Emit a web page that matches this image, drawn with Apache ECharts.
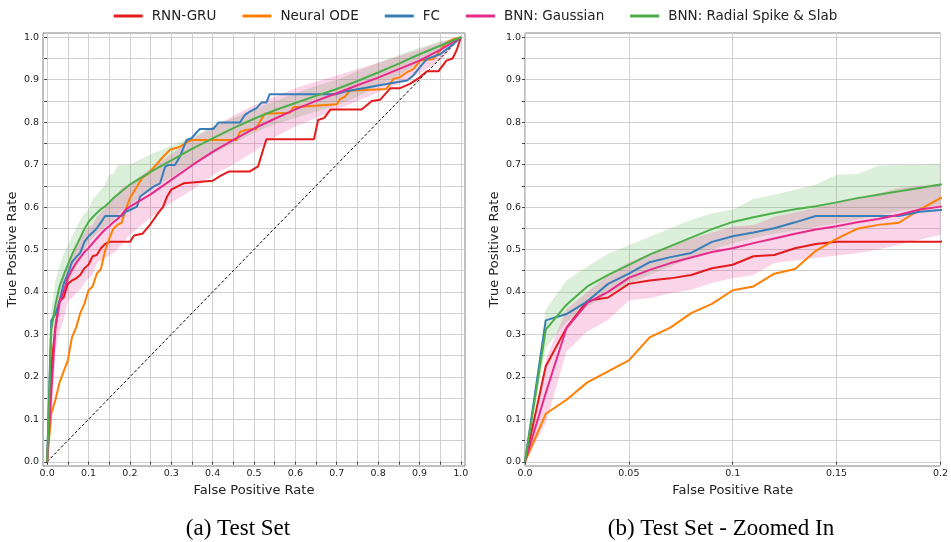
<!DOCTYPE html>
<html>
<head>
<meta charset="utf-8">
<script src="https://cdn.jsdelivr.net/npm/echarts@6/dist/echarts.min.js"></script>
<style>
  html, body { margin: 0; padding: 0; background: #fff; }
  #main { width: 951px; height: 542px; }
</style>
</head>
<body>
<div id="main"></div>
<script>
// ROC curves, [fpr, tpr]
const rnnGru = [[0,0],[0.01,0.225],[0.02,0.316],[0.03,0.379],[0.04,0.387],[0.05,0.419],[0.06,0.427],[0.07,0.432],[0.08,0.44],[0.09,0.456],[0.10,0.464],[0.11,0.484],[0.12,0.487],[0.13,0.503],[0.14,0.513],[0.15,0.518],[0.20,0.518],[0.21,0.533],[0.23,0.537],[0.25,0.56],[0.27,0.588],[0.28,0.60],[0.29,0.625],[0.30,0.641],[0.33,0.656],[0.40,0.662],[0.42,0.674],[0.44,0.684],[0.49,0.684],[0.51,0.696],[0.522,0.735],[0.53,0.76],[0.645,0.76],[0.655,0.805],[0.67,0.81],[0.685,0.83],[0.76,0.83],[0.785,0.85],[0.805,0.853],[0.83,0.88],[0.853,0.88],[0.877,0.89],[0.90,0.905],[0.918,0.92],[0.946,0.92],[0.965,0.945],[0.98,0.95],[0.99,0.97],[1,1]];
const neuralOde = [[0,0],[0.01,0.113],[0.02,0.146],[0.03,0.187],[0.04,0.213],[0.05,0.239],[0.06,0.293],[0.07,0.316],[0.08,0.35],[0.09,0.372],[0.10,0.404],[0.11,0.413],[0.12,0.443],[0.13,0.454],[0.14,0.497],[0.15,0.525],[0.16,0.549],[0.17,0.558],[0.18,0.563],[0.19,0.594],[0.20,0.621],[0.215,0.645],[0.229,0.668],[0.241,0.676],[0.253,0.688],[0.281,0.719],[0.297,0.735],[0.321,0.742],[0.333,0.75],[0.349,0.758],[0.458,0.758],[0.466,0.777],[0.482,0.782],[0.505,0.784],[0.51,0.794],[0.526,0.82],[0.587,0.822],[0.595,0.835],[0.70,0.842],[0.708,0.854],[0.72,0.86],[0.732,0.874],[0.82,0.878],[0.837,0.902],[0.853,0.906],[0.869,0.917],[0.885,0.925],[0.902,0.945],[0.934,0.949],[0.95,0.969],[0.966,0.988],[0.98,0.995],[1,1]];
const fc = [[0,0],[0.01,0.333],[0.02,0.348],[0.03,0.378],[0.04,0.419],[0.05,0.443],[0.06,0.47],[0.07,0.482],[0.08,0.492],[0.09,0.518],[0.10,0.531],[0.11,0.54],[0.12,0.55],[0.13,0.564],[0.14,0.579],[0.18,0.579],[0.19,0.589],[0.20,0.593],[0.217,0.601],[0.225,0.625],[0.257,0.648],[0.273,0.656],[0.285,0.695],[0.293,0.699],[0.309,0.699],[0.321,0.719],[0.337,0.758],[0.349,0.762],[0.369,0.784],[0.402,0.784],[0.414,0.799],[0.466,0.799],[0.478,0.817],[0.49,0.825],[0.506,0.833],[0.518,0.846],[0.53,0.846],[0.538,0.866],[0.70,0.866],[0.72,0.872],[0.82,0.89],[0.87,0.898],[0.885,0.91],[0.897,0.925],[0.918,0.949],[0.95,0.96],[0.966,0.972],[0.982,0.984],[1,1]];

// BNN curves: mean and band on a shared fpr grid
const bnnFpr = [0,0.01,0.02,0.03,0.04,0.05,0.06,0.07,0.08,0.09,0.10,0.11,0.12,0.13,0.14,0.15,0.16,0.17,0.18,0.19,0.20,0.25,0.30,0.35,0.40,0.45,0.50,0.55,0.60,0.65,0.70,0.75,0.80,0.85,0.90,0.95,1.0];
const gaussMean = [0,0.162,0.315,0.374,0.400,0.433,0.452,0.468,0.481,0.494,0.503,0.515,0.526,0.537,0.547,0.555,0.564,0.572,0.582,0.594,0.601,0.630,0.664,0.698,0.730,0.758,0.785,0.808,0.830,0.850,0.868,0.887,0.905,0.925,0.945,0.970,1.0];
const gaussLow  = [0,0.09,0.26,0.307,0.334,0.38,0.385,0.397,0.405,0.421,0.432,0.44,0.468,0.474,0.48,0.486,0.491,0.50,0.511,0.523,0.535,0.575,0.61,0.64,0.675,0.70,0.73,0.765,0.79,0.81,0.83,0.85,0.87,0.89,0.915,0.945,1.0];
const gaussHigh = [0,0.24,0.36,0.40,0.44,0.47,0.49,0.51,0.525,0.54,0.554,0.558,0.577,0.588,0.598,0.609,0.621,0.632,0.645,0.65,0.655,0.69,0.725,0.76,0.79,0.815,0.84,0.86,0.88,0.895,0.91,0.925,0.94,0.955,0.972,0.988,1.0];
const slabMean  = [0,0.311,0.370,0.413,0.440,0.464,0.488,0.508,0.528,0.548,0.565,0.576,0.586,0.595,0.602,0.611,0.621,0.629,0.637,0.645,0.653,0.683,0.71,0.737,0.762,0.786,0.808,0.828,0.845,0.862,0.878,0.897,0.917,0.938,0.96,0.98,1.0];
const slabLow   = [0,0.268,0.33,0.365,0.395,0.42,0.44,0.46,0.48,0.50,0.515,0.527,0.537,0.545,0.553,0.562,0.57,0.58,0.59,0.598,0.605,0.64,0.67,0.70,0.725,0.75,0.775,0.795,0.81,0.825,0.84,0.86,0.885,0.91,0.94,0.968,1.0];
const slabHigh  = [0,0.358,0.427,0.46,0.49,0.51,0.53,0.55,0.57,0.585,0.594,0.619,0.629,0.641,0.653,0.676,0.678,0.697,0.699,0.699,0.70,0.724,0.745,0.765,0.79,0.81,0.83,0.85,0.868,0.885,0.90,0.92,0.94,0.958,0.975,0.99,1.0];

const chance = [[0,0],[1,1]];

// ticks
const rateTicks = [0,0.05,0.1,0.15,0.2,0.25,0.3,0.35,0.4,0.45,0.5,0.55,0.6,0.65,0.7,0.75,0.8,0.85,0.9,0.95,1.0];
const rateLabels = [0,0.1,0.2,0.3,0.4,0.5,0.6,0.7,0.8,0.9,1.0];
const zoomTicks = [0,0.05,0.1,0.15,0.2];

const names = ['RNN-GRU', 'Neural ODE', 'FC', 'BNN: Gaussian', 'BNN: Radial Spike & Slab'];
const colors = ['#e41a1c', '#ff7f00', '#377eb8', '#e7298a', '#4daf4a'];

const pair = (xs, ys) => xs.map((x, i) => [x, ys[i]]);

// shaded band as one polygon through the axis scales
function band(gi, lo, hi, color) {
  return {
    type: 'custom', xAxisIndex: gi, yAxisIndex: gi, clip: true, silent: true, z: 1,
    data: bnnFpr.map((x, i) => [x, lo[i], hi[i]]),
    encode: {x: 0, y: [1, 2]},
    renderItem: function (params, api) {
      if (params.dataIndex !== 0) return;
      const top = bnnFpr.map((x, i) => api.coord([x, hi[i]]));
      const bottom = bnnFpr.map((x, i) => api.coord([x, lo[i]])).reverse();
      const cs = params.coordSys;
      return {
        type: 'polygon',
        shape: {points: top.concat(bottom)},
        style: {fill: color},
        clipPath: {type: 'rect', shape: {x: cs.x, y: cs.y, width: cs.width, height: cs.height}}
      };
    }
  };
}

function curves(gi) {
  const lines = [rnnGru, neuralOde, fc, pair(bnnFpr, gaussMean), pair(bnnFpr, slabMean)];
  const s = [
    band(gi, slabLow, slabHigh, 'rgba(77,175,74,0.2)'),
    band(gi, gaussLow, gaussHigh, 'rgba(231,41,138,0.2)')
  ];
  lines.forEach((d, i) => {
    s.push({
      name: names[i], type: 'line', xAxisIndex: gi, yAxisIndex: gi,
      data: d, symbol: 'none', color: colors[i],
      lineStyle: {width: 2, color: colors[i]}, z: 3 + i
    });
  });
  if (gi === 0) {
    s.push({
      type: 'line', xAxisIndex: 0, yAxisIndex: 0, data: chance, symbol: 'none',
      lineStyle: {width: 1, color: '#000', type: [3, 2]}, z: 2
    });
  }
  return s;
}

const tickFont = {fontSize: 9.5, color: '#222', fontFamily: 'DejaVu Sans'};
const titleFont = {fontSize: 13, color: '#222', fontFamily: 'DejaVu Sans'};
const gridLine = {show: true, lineStyle: {color: '#d0d0d0', width: 1}};

function xAxis(gi, min, max, ticks, labels, fmt) {
  return {
    gridIndex: gi, type: 'value', min: min, max: max,
    axisLine: {show: false},
    axisTick: {show: true, length: 3, customValues: ticks, lineStyle: {color: '#444'}},
    axisLabel: Object.assign({customValues: labels, margin: 3, formatter: fmt}, tickFont),
    splitLine: gridLine,
    name: 'False Positive Rate', nameLocation: 'middle', nameGap: 16,
    nameTextStyle: titleFont
  };
}

function yAxis(gi) {
  return {
    gridIndex: gi, type: 'value', min: -0.01, max: 1.01,
    axisLine: {show: false},
    axisTick: {show: true, length: 3, customValues: rateTicks, lineStyle: {color: '#444'}},
    axisLabel: Object.assign({customValues: rateLabels, margin: 4, formatter: v => v.toFixed(1)}, tickFont),
    splitLine: gridLine,
    name: 'True Positive Rate', nameLocation: 'middle', nameGap: 24,
    nameTextStyle: titleFont
  };
}

const zoomFmt = v => (v === 0 || v === 0.2) ? v.toFixed(1) : String(v);

const option = {
  animation: false,
  backgroundColor: '#fff',
  legend: {
    top: 4, left: 'center',
    data: names,
    icon: 'rect', itemWidth: 29, itemHeight: 3, itemGap: 26,
    textStyle: {fontSize: 13.5, color: '#222', fontFamily: 'DejaVu Sans', padding: [0, 0, 0, 4]}
  },
  grid: [
    {left: 43, top: 33, width: 422, height: 433, show: true, borderColor: '#808080', borderWidth: 1},
    {left: 525, top: 33, width: 420, height: 433, show: true, borderColor: '#808080', borderWidth: 1}
  ],
  xAxis: [
    xAxis(0, -0.01, 1.01, rateTicks, rateLabels, v => v.toFixed(1)),
    xAxis(1, 0, 0.2, zoomTicks, zoomTicks, zoomFmt)
  ],
  yAxis: [yAxis(0), yAxis(1)],
  graphic: [
    {type: 'text', x: 238, y: 529, style: {text: '(a) Test Set', font: '23px "Liberation Serif", serif', fill: '#000', align: 'center', verticalAlign: 'middle'}},
    {type: 'text', x: 721, y: 529, style: {text: '(b) Test Set - Zoomed In', font: '23px "Liberation Serif", serif', fill: '#000', align: 'center', verticalAlign: 'middle'}}
  ],
  series: curves(0).concat(curves(1))
};

const chart = echarts.init(document.getElementById('main'));
chart.setOption(option);
</script>
</body>
</html>
